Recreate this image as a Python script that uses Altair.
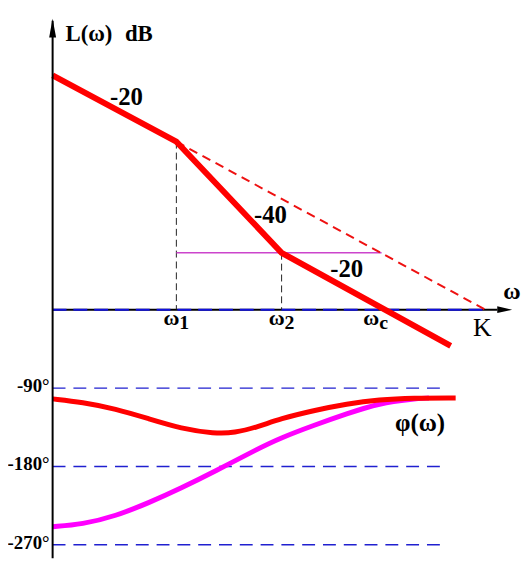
import altair as alt
import pandas as pd

# ---------------- data (x = lg ω, magnitude in dB, phase in degrees) -------------
mag_lg = [-1.176, 0.0, 1.0, 2.607]
mag_db = [82.3, 59.0, 20.0, -12.7]

ext_lg = [0.0, 2.937]          # dashed -20 continuation down to K
ext_db = [59.0, 0.0]

lvl_lg = [0.0, 1.95]           # horizontal level line at ω2's magnitude
lvl_db = [20.0, 20.0]

brk_lg = [0.0, 1.0]            # break frequencies ω1, ω2
brk_db = [59.0, 20.0]

ph_red_lg = [-1.176, -0.894, -0.577, -0.264, 0.047, 0.364, 0.552, 0.772,
             0.988, 1.305, 1.619, 1.929, 2.246, 2.654]
ph_red = [-102.4, -106.2, -113.8, -125.2, -136.6, -142.3, -141.5, -134.6,
          -125.2, -115.7, -108.1, -103.2, -101.3, -101.3]

ph_mag_lg = [-1.176, -0.894, -0.577, -0.264, 0.047, 0.364, 0.772,
             0.988, 1.305, 1.619, 1.929, 2.246, 2.4]
ph_mag = [-249.3, -246.7, -237.1, -222.0, -204.9, -185.9, -159.9,
          -147.4, -132.8, -119.5, -107.3, -102.4, -101.3]

grid_deg = [-90, -180, -270]
grid_lbl = ["-90°", "-180°", "-270°"]
grid_from, grid_to = -1.176, 2.56

slope_txt = ["-20", "-40", "-20"]
slope_lg = [-0.475, 0.894, 1.619]
slope_db = [74.75, 33.4, 14.2]

tick_sym = ["ω", "ω", "ω"]
tick_sub = ["1", "2", "c"]
tick_lg = [0.0, 1.0, 1.9]
tick_db = -5.24

axis_lg = -1.176
axis_top_db, axis_bot_db = 101.5, -87.3
waxis_end = 3.05

X = alt.Scale(domain=[-1.6, 3.294], nice=False, zero=False)
YM = alt.Scale(domain=[-88, 105], nice=False, zero=False)
YP = alt.Scale(domain=[-288, 344], nice=False, zero=False)

FONT = "Liberation Serif"


def xq(f):
    return alt.X(f, type="quantitative", scale=X, axis=None)


def ym(f):
    return alt.Y(f, type="quantitative", scale=YM, axis=None)


def yp(f):
    return alt.Y(f, type="quantitative", scale=YP, axis=None)


# ---------------- tables ----------------
mag_df = pd.DataFrame({"lg": mag_lg, "db": mag_db})
ext_df = pd.DataFrame({"lg": ext_lg, "db": ext_db})
lvl_df = pd.DataFrame({"lg": lvl_lg, "db": lvl_db})
brk_df = pd.DataFrame({"lg": brk_lg, "db": brk_db, "zero": [0.0, 0.0]})
red_df = pd.DataFrame({"lg": ph_red_lg, "deg": ph_red})
mgt_df = pd.DataFrame({"lg": ph_mag_lg, "deg": ph_mag})
grid_df = pd.DataFrame({"deg": grid_deg, "lbl": grid_lbl,
                        "x1": [grid_from] * 3, "x2": [grid_to] * 3,
                        "xa": [-1.205] * 3})
slope_df = pd.DataFrame({"t": slope_txt, "lg": slope_lg, "db": slope_db})
tick_df = pd.DataFrame({"s": tick_sym, "sub": tick_sub, "lg": tick_lg,
                        "db": [tick_db] * 3})

# ---------------- layers ----------------
grid = alt.Chart(grid_df).mark_rule(color="#2020d0", strokeWidth=1.5,
                                    strokeDash=[13, 8]).encode(
    x=xq("x1"), x2="x2", y=yp("deg"))

grid_text = alt.Chart(grid_df).mark_text(
    font=FONT, fontSize=19, fontWeight="bold", align="right",
    baseline="middle", dy=-2, color="black").encode(
    x=xq("xa"), y=yp("deg"), text="lbl")

w_axis = alt.Chart(pd.DataFrame({"a": [axis_lg], "b": [waxis_end], "y": [0.0]})
                   ).mark_rule(color="black", strokeWidth=2).encode(
    x=xq("a"), x2="b", y=ym("y"))
w_axis_blue = alt.Chart(pd.DataFrame({"a": [axis_lg], "b": [ext_lg[1]], "y": [0.0]})
                        ).mark_rule(color="#1010e0", strokeWidth=2,
                                    strokeDash=[14, 7]).encode(
    x=xq("a"), x2="b", y=ym("y"))

brk = alt.Chart(brk_df).mark_rule(color="#222222", strokeWidth=1,
                                  strokeDash=[7, 4]).encode(
    x=xq("lg"), y=ym("db"), y2="zero")

lvl = alt.Chart(lvl_df).mark_line(color="#cc44cc", strokeWidth=1.6).encode(
    x=xq("lg"), y=ym("db"))

ext = alt.Chart(ext_df).mark_line(color="#ee1111", strokeWidth=2,
                                  strokeDash=[9, 6]).encode(
    x=xq("lg"), y=ym("db"))

mag = alt.Chart(mag_df).mark_line(color="#ff0000", strokeWidth=6).encode(
    x=xq("lg"), y=ym("db"))

ph_m = alt.Chart(mgt_df).mark_line(color="#ff00ff", strokeWidth=5,
                                   interpolate="basis").encode(
    x=xq("lg"), y=yp("deg"))
ph_r = alt.Chart(red_df).mark_line(color="#ff0000", strokeWidth=5,
                                   interpolate="basis").encode(
    x=xq("lg"), y=yp("deg"))

v_axis = alt.Chart(pd.DataFrame({"x": [axis_lg], "a": [axis_top_db], "b": [axis_bot_db]})
                   ).mark_rule(color="black", strokeWidth=2).encode(
    x=xq("x"), y=ym("a"), y2="b")

up_arrow = alt.Chart(pd.DataFrame({"x": [axis_lg], "y": [98.9]})).mark_point(
    shape="M0,-1L0.37,1L-0.37,1Z", size=361, filled=True, color="black",
    opacity=1, strokeWidth=0).encode(x=xq("x"), y=ym("y"))
right_arrow = alt.Chart(pd.DataFrame({"x": [3.12], "y": [0.0]})).mark_point(
    shape="M1,0L-1,-0.45L-1,0.45Z", size=225, filled=True, color="black",
    opacity=1, strokeWidth=0).encode(x=xq("x"), y=ym("y"))

slopes = alt.Chart(slope_df).mark_text(
    font=FONT, fontSize=25, fontWeight="bold", baseline="middle",
    color="black").encode(x=xq("lg"), y=ym("db"), text="t")

ticks = alt.Chart(tick_df).mark_text(
    font=FONT, fontSize=22, fontWeight="bold", align="right", dx=3,
    baseline="alphabetic", color="black").encode(x=xq("lg"), y=ym("db"), text="s")
ticks_sub = alt.Chart(tick_df).mark_text(
    font=FONT, fontSize=20, fontWeight="bold", align="left", dx=3, dy=4,
    baseline="alphabetic", color="black").encode(x=xq("lg"), y=ym("db"), text="sub")

lab_df = pd.DataFrame({
    "t": ["L(ω)", "dB", "ω"],
    "lg": [-1.054, -0.489, 3.19],
    "db": [94.2, 94.2, 6.24],
})
top_labels = alt.Chart(lab_df.iloc[:2]).mark_text(
    font=FONT, fontSize=23, fontWeight="bold", align="left",
    baseline="alphabetic", color="black").encode(x=xq("lg"), y=ym("db"), text="t")
w_label = alt.Chart(lab_df.iloc[2:3]).mark_text(
    font=FONT, fontSize=24, fontWeight="bold", baseline="middle",
    color="black").encode(x=xq("lg"), y=ym("db"), text="t")
k_label = alt.Chart(pd.DataFrame({"t": ["K"], "lg": [2.908], "db": [-6.3]})).mark_text(
    font=FONT, fontSize=26, baseline="middle", color="black").encode(
    x=xq("lg"), y=ym("db"), text="t")
phi_label = alt.Chart(pd.DataFrame({"t": ["φ(ω)"], "lg": [2.315], "deg": [-129.7]})).mark_text(
    font=FONT, fontSize=25, fontWeight="bold", baseline="middle",
    color="black").encode(x=xq("lg"), y=yp("deg"), text="t")

chart = alt.layer(
    grid, w_axis, w_axis_blue, brk, lvl, ext, mag, ph_m, ph_r, v_axis,
    up_arrow, right_arrow, slopes, ticks, ticks_sub, top_labels, w_label,
    k_label, phi_label, grid_text,
).resolve_scale(y="independent").properties(
    width=520, height=555, padding=0,
    autosize=alt.AutoSizeParams(type="none"),
    background="white",
).configure_view(stroke=None)

chart.save("out.html", embed_options={"renderer": "svg", "actions": False})
